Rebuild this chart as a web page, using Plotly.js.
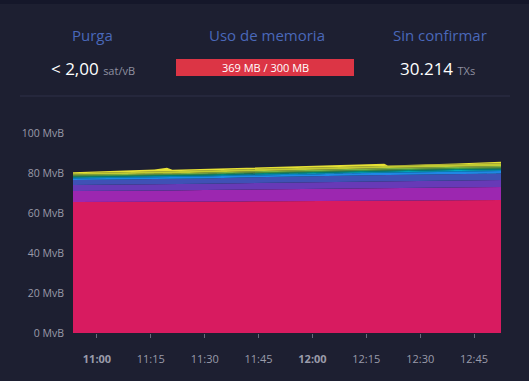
<!DOCTYPE html>
<html>
<head>
<meta charset="utf-8">
<script src="https://cdn.plot.ly/plotly-3.0.1.min.js"></script>
<style>
html,body{margin:0;padding:0;background:#1d1f31;overflow:hidden;}
#chart{width:529px;height:381px;}
</style>
</head>
<body>
<div id="chart"></div>
<script>
// Time stamps (sampled)
const times = ["2024-01-01 10:53:20","2024-01-01 11:00:00","2024-01-01 11:08:00","2024-01-01 11:16:00","2024-01-01 11:18:00","2024-01-01 11:19:30","2024-01-01 11:21:00","2024-01-01 11:30:00","2024-01-01 11:40:00","2024-01-01 11:50:00","2024-01-01 12:00:00","2024-01-01 12:08:00","2024-01-01 12:16:00","2024-01-01 12:20:00","2024-01-01 12:21:00","2024-01-01 12:30:00","2024-01-01 12:40:00","2024-01-01 12:52:30"];

// Fee-band layers (MvB), bottom to top
const band1  = [65.5,65.5,65.6,65.6,65.6,65.6,65.6,65.7,65.8,65.9,66.0,66.1,66.2,66.2,66.2,66.3,66.4,66.5];
const band2  = [5.5,5.5,5.6,5.7,5.7,5.7,5.7,5.8,5.9,6.0,6.1,6.2,6.3,6.3,6.3,6.4,6.4,6.5];
const band3  = [3.0,3.0,3.0,3.1,3.1,3.1,3.1,3.1,3.2,3.2,3.3,3.3,3.4,3.4,3.4,3.4,3.5,3.5];
const band4  = [2.5,2.5,2.6,2.6,2.6,2.6,2.6,2.7,2.8,2.8,2.9,3.0,3.0,3.1,3.1,3.1,3.2,3.3];
const band5  = [0.8,0.8,0.8,0.9,0.9,0.9,0.9,0.9,1.0,1.0,1.0,1.1,1.1,1.1,1.1,1.1,1.2,1.2];
const band6  = [0.3,0.3,0.3,0.3,0.3,0.3,0.3,0.3,0.3,0.4,0.4,0.4,0.4,0.4,0.4,0.4,0.4,0.4];
const band7  = [0.3,0.3,0.3,0.3,0.3,0.3,0.3,0.3,0.3,0.4,0.4,0.4,0.4,0.4,0.4,0.4,0.4,0.4];
const band8  = [0.4,0.4,0.4,0.4,0.4,0.4,0.4,0.4,0.4,0.4,0.5,0.5,0.5,0.5,0.5,0.5,0.5,0.5];
const band9  = [0.4,0.4,0.4,0.4,0.4,0.4,0.4,0.4,0.4,0.4,0.5,0.5,0.5,0.5,0.5,0.5,0.5,0.5];
const band10 = [0.5,0.5,0.5,0.5,0.5,0.5,0.5,0.6,0.6,0.6,0.6,0.6,0.6,0.6,0.6,0.7,0.7,0.7];
const band11 = [0.7,0.9,1.0,1.0,1.0,1.0,1.0,1.1,1.1,1.1,1.1,1.1,1.1,1.1,0.9,1.0,1.1,1.4];
const band12 = [0.5,0.7,0.8,1.0,1.5,1.8,0.8,0.8,0.8,0.9,0.8,1.0,1.0,1.0,0.3,0.3,0.4,0.7];

const bands = [band1,band2,band3,band4,band5,band6,band7,band8,band9,band10,band11,band12];
const bandColors = ["#D81B60","#9C27B0","#673AB7","#3F51B5","#1E88E5","#039BE5","#00ACC1","#00897B","#43A047","#7CB342","#C0CA33","#E6E035"];

const tickVals = ["2024-01-01 11:00","2024-01-01 11:15","2024-01-01 11:30","2024-01-01 11:45","2024-01-01 12:00","2024-01-01 12:15","2024-01-01 12:30","2024-01-01 12:45"];
const tickText = ["<b>11:00</b>","11:15","11:30","11:45","<b>12:00</b>","12:15","12:30","12:45"];
const yTicks = [0,20,40,60,80,100];
const yTickText = ["0 MvB","20 MvB","40 MvB","60 MvB","80 MvB","100 MvB"];

const traces = bands.map((b,i)=>({
  x: times, y: b, type:'scatter', mode:'lines', stackgroup:'one',
  line:{width:0, color:bandColors[i]}, fillcolor:bandColors[i], hoverinfo:'skip'
}));

const L = 73, R = 501, T = 133, B = 333;
const px = v => (v - L)/(R - L);
const py = v => (B - v)/(B - T);

const font = "'Open Sans', 'Noto Sans', sans-serif";
const titleColor = '#4a68b9';
const grey = '#9a9baa';

function ann(text, x, y, size, color){
  return {text:text, x:px(x), y:py(y), xref:'paper', yref:'paper', xanchor:'center', yanchor:'middle',
          showarrow:false, font:{size:size, color:color, family:font}};
}

const layout = {
  width:529, height:381,
  paper_bgcolor:'#1d1f31', plot_bgcolor:'#1d1f31',
  margin:{l:L, r:529-R, t:T, b:381-B},
  showlegend:false,
  font:{family:font, color:grey},
  xaxis:{
    type:'date', range:[times[0], times[times.length-1]],
    tickvals:tickVals, ticktext:tickText,
    showgrid:false, zeroline:false, showline:false,
    ticks:'outside', ticklen:4, tickcolor:'#6a6b7c', tickwidth:1,
    ticklabelstandoff:12,
    tickfont:{size:11, color:grey, family:font}
  },
  yaxis:{
    range:[0,100], tickvals:yTicks, ticktext:yTickText,
    showgrid:true, gridcolor:'#3a3d55', griddash:'dash', gridwidth:1,
    zeroline:false, showline:false,
    ticklabelstandoff:8,
    tickfont:{size:10.5, color:grey, family:font}
  },
  shapes:[
    {type:'rect', xref:'paper', yref:'paper', x0:-0.3, x1:1.2, y0:py(0), y1:py(4), fillcolor:'#15172a', line:{width:0}},
    {type:'line', xref:'paper', yref:'paper', x0:px(20), x1:px(510), y0:py(96), y1:py(96), line:{color:'#2e3149', width:1}},
    {type:'rect', xref:'paper', yref:'paper', x0:px(176), x1:px(354), y0:py(76), y1:py(59), fillcolor:'#dc3545', line:{width:0}}
  ],
  annotations:[
    ann('Purga', 92, 35, 15, titleColor),
    ann('Uso de memoria', 267, 35, 15, titleColor),
    ann('Sin confirmar', 440, 35, 15, titleColor),
    ann('< 2,00 <span style="font-size:11px;color:#8f90a0">sat/vB</span>', 93, 68, 17, '#ffffff'),
    ann('369 MB / 300 MB', 265, 67.5, 11, '#ffffff'),
    ann('30.214 <span style="font-size:11px;color:#8f90a0">TXs</span>', 437, 68, 17, '#ffffff')
  ]
};

Plotly.newPlot('chart', traces, layout, {displayModeBar:false, staticPlot:true});
</script>
</body>
</html>
